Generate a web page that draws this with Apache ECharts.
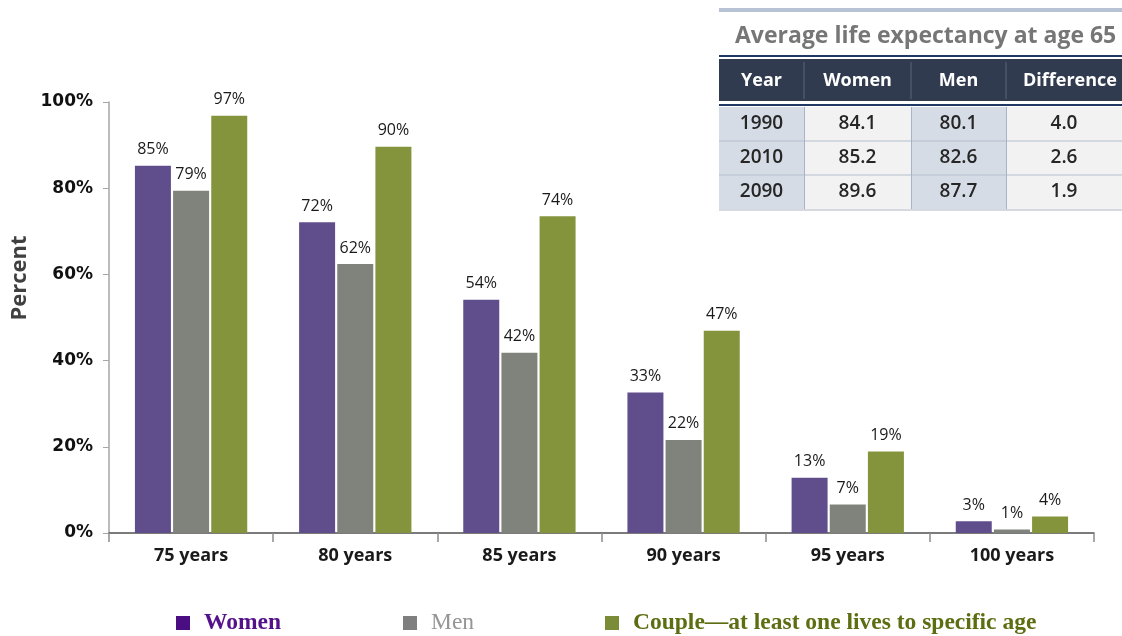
<!DOCTYPE html>
<html><head><meta charset="utf-8">
<script src="https://cdn.jsdelivr.net/npm/echarts@6/dist/echarts.min.js"></script>
<style>html,body{margin:0;padding:0;background:#fff}#c{width:1122px;height:636px}</style>
</head><body><div id="c"></div>
<script>
const categories = ['75 years','80 years','85 years','90 years','95 years','100 years'];
const women = [85.2, 72.1, 54.1, 32.6, 12.8, 2.7];
const men = [79.4, 62.4, 41.8, 21.6, 6.6, 0.8];
const couple = [96.8, 89.6, 73.5, 46.9, 18.9, 3.8];
const seriesNames = ['Women','Men','Couple\u2014at least one lives to specific age'];
const yTicks = [0,20,40,60,80,100];
const yAxisTitle = 'Percent';

const tableTitle = 'Average life expectancy at age 65';
const tableHeaders = ['Year','Women','Men','Difference'];
const tableYears = ['1990','2010','2090'];
const tableWomen = ['84.1','85.2','89.6'];
const tableMen = ['80.1','82.6','87.7'];
const tableDiff = ['4.0','2.6','1.9'];

const font = '"Open Sans", "Noto Sans", sans-serif';
const colors = ['#604e8c','#80837c','#84943c'];

// table graphics
const colX = [719, 804, 911, 1006, 1122];
const rowY0 = 107, rowH = 34;
const g = [];
g.push({type:'rect', shape:{x:719,y:8,width:403,height:4}, style:{fill:'#b7c3d5'}});
g.push({type:'text', x:735, y:36, style:{text:tableTitle, font:'bold 23px "Open Sans", sans-serif', fill:'#767676', textVerticalAlign:'middle'}});
g.push({type:'rect', shape:{x:719,y:55,width:403,height:2}, style:{fill:'#1f3864'}});
g.push({type:'rect', shape:{x:719,y:59,width:403,height:42}, style:{fill:'#313b4f'}});
g.push({type:'rect', shape:{x:719,y:104,width:403,height:2}, style:{fill:'#1f3864'}});
for (let c=1;c<4;c++) g.push({type:'line', shape:{x1:colX[c],y1:62,x2:colX[c],y2:99}, style:{stroke:'#5d677a',lineWidth:1}});
tableHeaders.forEach((h,c)=>{
  const cx = c===3 ? 1070 : (colX[c]+colX[c+1])/2;
  g.push({type:'text', x:cx, y:81, style:{text:h, font:'bold 18px "Open Sans", sans-serif', fill:'#ffffff', textAlign:'center', textVerticalAlign:'middle'}});
});
const cellFill = ['#d6dce5','#f2f2f2','#d6dce5','#f2f2f2'];
const cols = [tableYears, tableWomen, tableMen, tableDiff];
for (let r=0;r<3;r++){
  for (let c=0;c<4;c++){
    g.push({type:'rect', shape:{x:colX[c],y:rowY0+r*rowH,width:colX[c+1]-colX[c],height:rowH}, style:{fill:cellFill[c]}});
  }
}
for (let r=0;r<3;r++){
  for (let c=0;c<4;c++){
    g.push({type:'text', x:(colX[c]+colX[c+1])/2, y:rowY0+r*rowH+rowH/2, style:{text:cols[c][r], font:'600 19px "Open Sans", sans-serif', fill:'#262626', textAlign:'center', textVerticalAlign:'middle'}});
  }
}
for (let r=1;r<3;r++) g.push({type:'line', shape:{x1:719,y1:rowY0+r*rowH,x2:1122,y2:rowY0+r*rowH}, style:{stroke:'#b4bfcf',lineWidth:1}});
for (let c=1;c<4;c++) g.push({type:'line', shape:{x1:colX[c]+0.5,y1:rowY0,x2:colX[c]+0.5,y2:rowY0+3*rowH}, style:{stroke:'#a7b3c6',lineWidth:1}});
g.push({type:'line', shape:{x1:719,y1:rowY0+3*rowH+1,x2:1122,y2:rowY0+3*rowH+1}, style:{stroke:'#c9ced6',lineWidth:1.5}});
// y axis title
g.push({type:'text', x:20, y:278, rotation:Math.PI/2, style:{text:yAxisTitle, font:'bold 22px "Open Sans", sans-serif', fill:'#404040', textAlign:'center', textVerticalAlign:'middle'}});

const labelFmt = p => Math.round(p.value) + '%';
function mk(i, data){
  return {name: seriesNames[i], type:'bar', data, barWidth:36, barGap:'6%',
    itemStyle:{color:colors[i]},
    label:{show:true, position:'top', distance:8, formatter:labelFmt, color:'#1a1a1a', fontSize:16, fontFamily:font},
    z: 3};
}
const legendColors = ['#4b0d82','#7f7f7f','#7a8c38'];
const legendText = [
  {color:'#55118a', fontWeight:'bold'},
  {color:'#959595', fontWeight:'normal'},
  {color:'#5c6d12', fontWeight:'bold'}
];
const legendLeft = [176, 403, 605];
const legends = seriesNames.map((n,i)=>({
  left: legendLeft[i], top: 611, padding:0, icon:'rect', itemWidth:14, itemHeight:14, itemGap:0,
  selectedMode:false,
  data:[{name:n, itemStyle:{color:legendColors[i]}}],
  textStyle:Object.assign({fontFamily:'"Liberation Serif", "DejaVu Serif", serif', fontSize:23.5, padding:[0,0,0,9]}, legendText[i])
}));

const chart = echarts.init(document.getElementById('c'), null, {renderer:'canvas'});
chart.setOption({
  animation:false,
  backgroundColor:'#ffffff',
  grid:{left:109, right:28, top:102, bottom:103, containLabel:false, outerBoundsMode:'none'},
  legend: legends,
  xAxis:{type:'category', data:categories,
    axisLine:{lineStyle:{color:'#505050', width:1.5}},
    axisTick:{show:true, alignWithLabel:false, length:9, lineStyle:{color:'#8c8c8c', width:1.5}},
    axisLabel:{color:'#1a1a1a', fontWeight:'bold', fontSize:18, fontFamily:font, margin:14}},
  yAxis:{type:'value', min:0, max:100, interval:20,
    axisLine:{show:true, lineStyle:{color:'#a6a6a6', width:1.5}},
    axisTick:{show:true, length:6, lineStyle:{color:'#a6a6a6'}},
    splitLine:{show:false},
    axisLabel:{formatter: v => yTicks.includes(v) ? v + '%' : '', color:'#111', fontWeight:'bold', fontSize:17, fontFamily:'"DejaVu Sans", sans-serif', margin:16}},
  series:[mk(0,women), mk(1,men), mk(2,couple)],
  graphic: g
});
</script></body></html>
